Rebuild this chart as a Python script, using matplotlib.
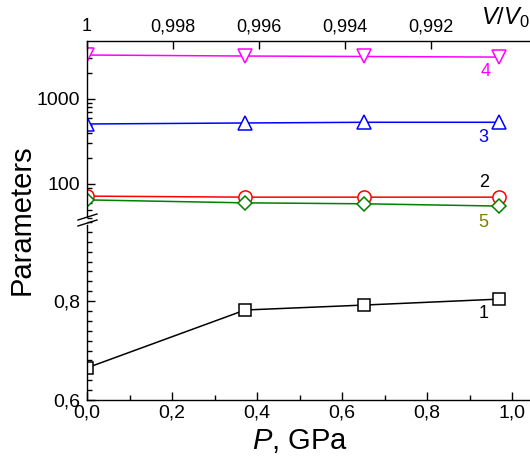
import matplotlib
matplotlib.use("Agg")
import numpy as np
import matplotlib.pyplot as plt
import matplotlib.ticker as mticker
from matplotlib.lines import Line2D

plt.rcParams['font.family'] = ['Liberation Sans', 'DejaVu Sans']
plt.rcParams['mathtext.fontset'] = 'custom'
plt.rcParams['mathtext.rm'] = 'Liberation Sans'
plt.rcParams['mathtext.it'] = 'Liberation Sans:italic'

# data
pressure = [0.0, 0.372, 0.652, 0.969]
param1 = [0.665, 0.782, 0.792, 0.804]   # squares, lower part
param2 = [72, 70, 70, 70]               # circles
param3 = [508, 522, 532, 532]           # up triangles
param4 = [3290, 3200, 3160, 3110]       # down triangles
param5 = [65, 60, 58.5, 55]             # diamonds

top_ticks = [1.0, 0.998, 0.996, 0.994, 0.992]
top_labels = ["1", "0,998", "0,996", "0,994", "0,992"]

W, H = 530, 465
fig = plt.figure(figsize=(W / 100, H / 100), dpi=100)

def fx(px):
    return px / W

def fy(py):
    return 1 - py / H

left, right = fx(87), 1.0
ax_top = fig.add_axes([left, fy(221), right - left, fy(41) - fy(221)])
ax_bot = fig.add_axes([left, fy(400), right - left, fy(221) - fy(400)])

xmax = (W - 87) / 425.0
LW = 1.1

def comma(v, pos):
    s = "%.1f" % v
    return s.replace(".", ",")

for ax in (ax_top, ax_bot):
    ax.set_xlim(0, xmax)
    ax.patch.set_visible(False)
    ax.spines['right'].set_visible(False)
    for sp in ax.spines.values():
        sp.set_linewidth(1.0)
    ax.tick_params(which='both', direction='in', width=1.0, labelsize=14)
    ax.tick_params(which='major', length=6)
    ax.tick_params(which='minor', length=3.5)

# top V/V0 axis
ax_v = ax_top.twiny()
ax_v.patch.set_visible(False)
ax_v.set_xlim(1.0, 1.0 - 0.009884 * xmax)
ax_v.xaxis.set_major_locator(mticker.FixedLocator(top_ticks))
ax_v.xaxis.set_major_formatter(mticker.FixedFormatter(top_labels))
ax_v.xaxis.set_minor_locator(mticker.NullLocator())
ax_v.tick_params(axis='x', which='both', direction='in', length=6, width=1.0,
                 labelsize=13, pad=4, top=True, labeltop=True,
                 bottom=False, labelbottom=False)
for name, sp in ax_v.spines.items():
    sp.set_visible(name == 'top')
ax_v.spines['top'].set_linewidth(1.0)

# upper (log) part
ax_top.set_yscale('log')
ax_top.set_ylim(36.7, 4808)
ax_top.spines['bottom'].set_visible(False)
ax_top.spines['top'].set_visible(False)
ax_top.spines['left'].set_bounds(40.9, 4808)
ax_top.xaxis.set_major_locator(mticker.NullLocator())
ax_top.xaxis.set_minor_locator(mticker.NullLocator())
ax_top.tick_params(axis='x', which='both', bottom=False, labelbottom=False,
                   top=False, labeltop=False)
ax_top.yaxis.set_major_locator(mticker.FixedLocator([100, 1000]))
ax_top.yaxis.set_major_formatter(mticker.FixedFormatter(["100", "1000"]))
ax_top.yaxis.set_minor_locator(mticker.LogLocator(subs=np.arange(2, 10)))
ax_top.yaxis.set_minor_formatter(mticker.NullFormatter())
ax_top.tick_params(axis='y', pad=5)

ax_top.plot(pressure, param4, color='#FF00FF', lw=LW, marker='v', ms=10.5,
            mfc='white', mec='#FF00FF', mew=1.1)
ax_top.plot(pressure, param3, color='#0000FF', lw=LW, marker='^', ms=10.5,
            mfc='white', mec='#0000FF', mew=1.1)
ax_top.plot(pressure, param2, color='#FF0000', lw=LW, marker='o', ms=9.5,
            mfc='white', mec='#FF0000', mew=1.1)
ax_top.plot(pressure, param5, color='#008000', lw=LW, marker='D', ms=7.6,
            mfc='white', mec='#008000', mew=1.1)

# lower (linear) part
ax_bot.set_ylim(0.6, 0.962)
ax_bot.spines['top'].set_visible(False)
ax_bot.spines['left'].set_bounds(0.6, 0.9535)
ax_bot.tick_params(axis='x', which='both', top=False)
ax_bot.xaxis.set_major_locator(mticker.MultipleLocator(0.2))
ax_bot.xaxis.set_minor_locator(mticker.MultipleLocator(0.1))
ax_bot.xaxis.set_major_formatter(mticker.FuncFormatter(comma))
ax_bot.yaxis.set_major_locator(mticker.MultipleLocator(0.2))
ax_bot.yaxis.set_minor_locator(mticker.MultipleLocator(0.02))
ax_bot.yaxis.set_major_formatter(mticker.FuncFormatter(comma))
ax_bot.tick_params(axis='x', pad=3)
ax_bot.tick_params(axis='y', pad=5)

ax_bot.plot(pressure, param1, color='black', lw=LW, marker='s', ms=8.5,
            mfc='white', mec='black', mew=1.1)

# curve numbers
ax_bot.text(0.934, 0.774, "1", color='black', fontsize=13, ha='center', va='center')
ax_top.text(0.934, 105, "2", color='black', fontsize=13, ha='center', va='center')
ax_top.text(0.932, 357, "3", color='#0000FF', fontsize=13, ha='center', va='center')
ax_top.text(0.937, 2080, "4", color='#FF00FF', fontsize=13, ha='center', va='center')
ax_top.text(0.932, 35.7, "5", color='#808000', fontsize=13, ha='center', va='center')

# axis break marks
for y0 in (220, 226):
    fig.add_artist(Line2D([fx(78), fx(97)], [fy(y0), fy(y0 - 6)],
                          transform=fig.transFigure, color='black', lw=1.0))

fig.text(fx(22), fy(220), "Parameters", rotation=90, fontsize=21,
         ha='center', va='center')
fig.text(fx(300), fy(441), "$P$, GPa", fontsize=21, ha='center', va='center')
fig.text(fx(505), fy(18), "$V/V_\\mathrm{0}$", fontsize=17, ha='center', va='center')

fig.savefig("out.png", dpi=100)
